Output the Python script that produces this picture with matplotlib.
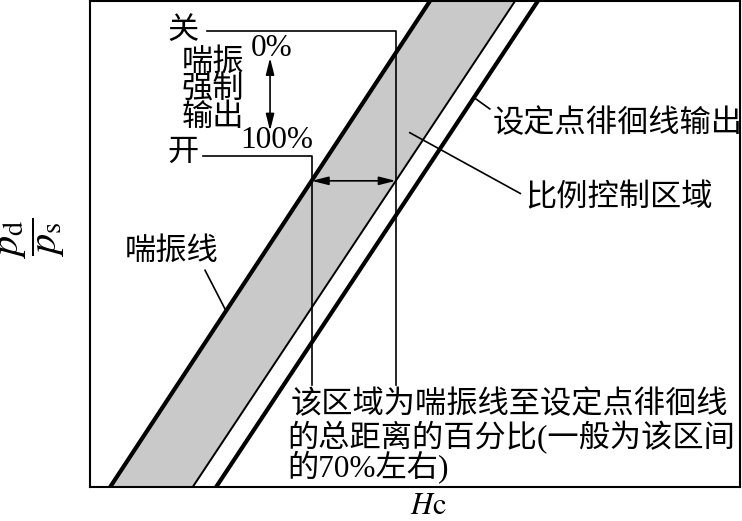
import matplotlib.pyplot as plt
import numpy as np

plt.rcParams['font.family'] = ['Liberation Serif', 'Noto Sans CJK SC']
plt.rcParams['mathtext.fontset'] = 'stix'

# pd/ps at bottom and top of the plot, and where each line crosses them (Hc)
pd_ps = [0.0, 1.0]
surge_hc = [0.031, 0.523]      # 喘振线
band_hc = [0.158, 0.654]       # 比例控制区域 edge
setpoint_hc = [0.194, 0.689]   # 设定点徘徊线

arrow_level = 0.63   # pd/ps where the width arrow is drawn
close_level = 0.938  # 关
open_level = 0.682   # 开
text_top = 0.209

fig = plt.figure(figsize=(7.42, 5.21), dpi=100)
ax = fig.add_axes([90 / 742, 34 / 521, 650 / 742, 486 / 521])
ax.set_xlim(0, 1)
ax.set_ylim(0, 1)
ax.set_xticks([])
ax.set_yticks([])
for s in ax.spines.values():
    s.set_linewidth(1.5)

ax.fill_betweenx(pd_ps, surge_hc, band_hc, color='#c9c9c9', lw=0)
ax.plot(surge_hc, pd_ps, color='black', lw=3.0, solid_capstyle='butt')
ax.plot(band_hc, pd_ps, color='black', lw=1.4, solid_capstyle='butt')
ax.plot(setpoint_hc, pd_ps, color='black', lw=3.0, solid_capstyle='butt')

x_surge = np.interp(arrow_level, pd_ps, surge_hc)
x_band = np.interp(arrow_level, pd_ps, band_hc)

# 关 / 开 brackets
ax.plot([0.18, x_band, x_band], [close_level, close_level, text_top], color='black', lw=1.2)
ax.plot([0.174, x_surge, x_surge], [open_level, open_level, text_top], color='black', lw=1.2)

arr = dict(arrowstyle='<|-|>,head_length=1.0,head_width=0.25', color='black', lw=1.2,
           shrinkA=0, shrinkB=0)
ax.annotate('', xy=(x_surge, arrow_level), xytext=(x_band, arrow_level), arrowprops=arr)
ax.annotate('', xy=(0.277, 0.883), xytext=(0.277, 0.733), arrowprops=arr)

fs = 22.5
ax.text(0.143, 0.938, '关', fontsize=fs, ha='center', va='center')
ax.text(0.143, 0.686, '开', fontsize=fs, ha='center', va='center')
ax.text(0.189, 0.871, '喘振', fontsize=fs, ha='center', va='center')
ax.text(0.189, 0.815, '强制', fontsize=fs, ha='center', va='center')
ax.text(0.189, 0.758, '输出', fontsize=fs, ha='center', va='center')
ax.text(0.280, 0.903, '0%', fontsize=fs, ha='center', va='center')
ax.text(0.288, 0.713, '100%', fontsize=fs, ha='center', va='center')

ax.plot([0.591, 0.615], [0.801, 0.778], color='black', lw=1.2)
ax.text(0.620, 0.747, '设定点徘徊线输出', fontsize=fs, ha='left', va='center')
ax.plot([0.492, 0.662], [0.729, 0.604], color='black', lw=1.2)
ax.text(0.669, 0.593, '比例控制区域', fontsize=fs, ha='left', va='center')
ax.plot([0.177, 0.209], [0.446, 0.363], color='black', lw=1.2)
ax.text(0.054, 0.483, '喘振线', fontsize=fs, ha='left', va='center')

ax.text(0.308, 0.168, '该区域为喘振线至设定点徘徊线', fontsize=fs, ha='left', va='center')
ax.text(0.303, 0.101, '的总距离的百分比(一般为该区间', fontsize=fs, ha='left', va='center')
ax.text(0.303, 0.039, '的70%左右)', fontsize=fs, ha='left', va='center')

fig.text(33 / 742, 1 - 238 / 521, r'$\dfrac{p_{\rm d}}{p_{\rm s}}$', fontsize=29,
         rotation=90, ha='center', va='center')
fig.text(428 / 742, 1 - 507 / 521, r'$H\mathrm{c}$', fontsize=22, ha='center', va='center')

fig.savefig('out.png', dpi=100)
